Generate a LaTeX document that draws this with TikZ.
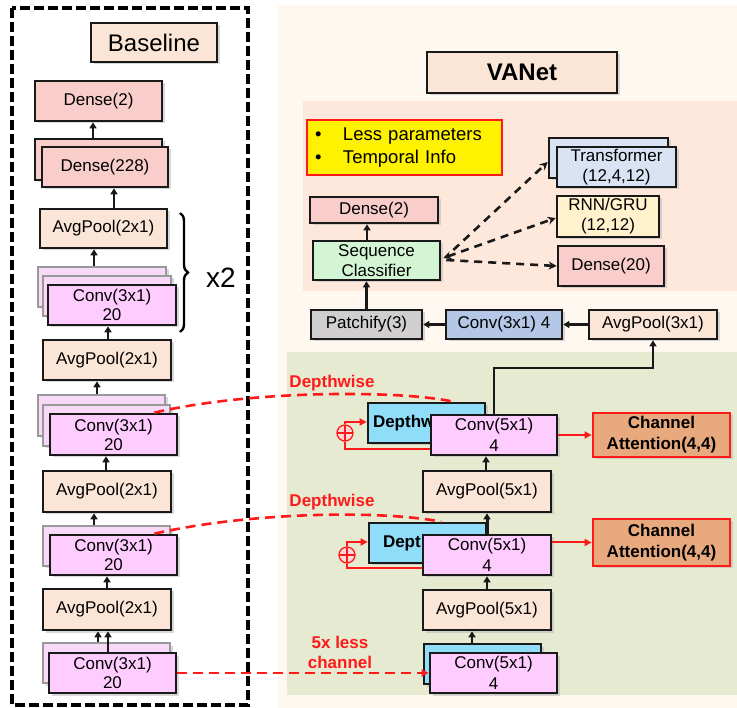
\documentclass[tikz,border=0pt]{standalone}
\usepackage{fontspec}
\setmainfont{Liberation Sans}
\usetikzlibrary{arrows.meta,shadows,decorations.pathreplacing}
\definecolor{cPeach}{HTML}{FBE5D6}
\definecolor{cDense}{HTML}{F8CDCA}
\definecolor{cConv}{HTML}{FFCCFF}
\definecolor{cConvBack}{HTML}{F8DAF8}
\definecolor{cCyan}{HTML}{8FDDF9}
\definecolor{cCA}{HTML}{E8A97E}
\definecolor{cSC}{HTML}{D3F5D3}
\definecolor{cGray}{HTML}{D0CECE}
\definecolor{cBlue}{HTML}{B4C7E7}
\definecolor{cTrans}{HTML}{DAE3F3}
\definecolor{cRNN}{HTML}{FFF2CC}
\definecolor{cBgCream}{HTML}{FEF8F1}
\definecolor{cBgSalmon}{HTML}{FDE8DB}
\definecolor{cBgGreen}{HTML}{E5EAD0}
\definecolor{cRed}{HTML}{FF1A1A}
\newcommand{\myfs}{\fontsize{17}{20}\selectfont}
\begin{document}
\begin{tikzpicture}[x=1pt,y=-1pt,
  blk/.style={rectangle, draw=black!90, line width=2.6pt, inner sep=0pt, align=center, font=\myfs,
    drop shadow={shadow xshift=2.5pt, shadow yshift=-2.5pt, fill=black!30}},
  sz/.style 2 args={minimum width=#1pt, minimum height=#2pt},
  peach/.style={blk, fill=cPeach},
  dense/.style={blk, fill=cDense},
  conv/.style={blk, fill=cConv},
  convback/.style={blk, fill=cConvBack, draw=black!40, line width=2pt},
  cyanb/.style={blk, fill=cCyan, font=\myfs\bfseries},
  cab/.style={blk, fill=cCA, draw=cRed, line width=2.8pt, font=\fontsize{17}{21}\selectfont\bfseries},
  seqc/.style={blk, fill=cSC},
  grayb/.style={blk, fill=cGray},
  blueb/.style={blk, fill=cBlue},
  trans/.style={blk, fill=cTrans},
  rnnb/.style={blk, fill=cRNN},
  arr/.style={draw=black!90, line width=2.4pt, -{Triangle[length=6pt,width=7pt]}},
  darr/.style={draw=black!90, line width=2.6pt, dash pattern=on 8pt off 6pt, -{Stealth[length=8pt,width=8pt]}},
  rline/.style={draw=cRed, line width=2pt},
  rarr/.style={draw=cRed, line width=2pt, -{Triangle[length=7pt,width=7pt]}},
  rdash/.style={draw=cRed, line width=2.6pt, dash pattern=on 10pt off 6pt},
  rtext/.style={text=cRed, font=\fontsize{17}{20}\selectfont\bfseries, align=center, inner sep=0pt},
  oplus/.style={circle, draw=cRed, line width=1.3pt, fill=white!85!red, minimum size=16pt, inner sep=0pt,
    path picture={\draw[cRed, line width=1.3pt] (path picture bounding box.north) -- (path picture bounding box.south)
      (path picture bounding box.west) -- (path picture bounding box.east);}}
]
\useasboundingbox (0,0) rectangle (737,708);
\fill[white] (0,0) rectangle (737,708);
% backgrounds
\fill[cBgCream] (278,5) rectangle (737,708);
\fill[cBgSalmon] (303,101) rectangle (737,291);
\fill[cBgGreen] (287,352) rectangle (737,695);
% left dashed frame
\draw[line width=3.2pt, dash pattern=on 10pt off 4pt] (12,8) rectangle (248,705);

% ---------- Baseline column ----------
\node[peach, sz={126}{39}, font=\fontsize{24}{28}\selectfont] (base) at (154,42.5) {Baseline};
\node[dense, sz={127}{40}] (ld2) at (98.5,101) {Dense(2)};
\node[dense, sz={127}{41}] (ld228b) at (98.5,159.5) {};
\node[dense, sz={126}{40}] (ld228) at (105,167) {Dense(228)};
\node[peach, sz={127}{39}] (lap1) at (103.5,228.5) {AvgPool(2x1)};
\node[convback, sz={128}{40}] (lc1a) at (102,287) {};
\node[convback, sz={128}{40}] (lc1b) at (107,296) {};
\node[conv, sz={128}{40}, font=\fontsize{17}{19}\selectfont] (lc1) at (112,305) {Conv(3x1)\\20};
\node[peach, sz={128}{40}] (lap2) at (107,360) {AvgPool(2x1)};
\node[convback, sz={127}{41}] (lc2a) at (101.5,415.5) {};
\node[convback, sz={127}{41}] (lc2b) at (106.5,425.5) {};
\node[conv, sz={127}{41}, font=\fontsize{17}{19}\selectfont] (lc2) at (113.5,434.5) {Conv(3x1)\\20};
\node[peach, sz={128}{41}] (lap3) at (107,491.5) {AvgPool(2x1)};
\node[convback, sz={127}{40}] (lc3a) at (106.5,546) {};
\node[conv, sz={127}{40}, font=\fontsize{17}{19}\selectfont] (lc3) at (113.5,555) {Conv(3x1)\\20};
\node[peach, sz={128}{41}] (lap4) at (107,609.5) {AvgPool(2x1)};
\node[convback, sz={127}{40}] (lc4a) at (106.5,663) {};
\node[conv, sz={127}{40}, font=\fontsize{17}{19}\selectfont] (lc4) at (112.5,673) {Conv(3x1)\\20};

\draw[arr] ([xshift=-5.5pt]ld228b.north) -- ([xshift=-5.5pt]ld2.south);
\draw[arr] ([xshift=10.5pt]lap1.north) -- ([xshift=9pt]ld228.south);
\draw[arr] ([xshift=-8pt]lc1a.north) -- ([xshift=-9.5pt]lap1.south);
\draw[arr] ([xshift=1pt]lap2.north) -- ([xshift=-4pt]lc1.south);
\draw[arr] ([xshift=-4.5pt]lc2a.north) -- ([xshift=-10pt]lap2.south);
\draw[arr] ([xshift=-1pt]lap3.north) -- ([xshift=-7.5pt]lc2.south);
\draw[arr] ([xshift=-12.5pt]lc3a.north) -- ([xshift=-13pt]lap3.south);
\draw[arr] (lap4.north) -- ([xshift=-6.5pt]lc3.south);
\draw[arr, line width=1.8pt] ([xshift=-8.5pt]lc4a.north) -- ([xshift=-9pt]lap4.south);
\draw[arr] ([xshift=-4.5pt]lc4.north) -- ([xshift=1pt]lap4.south);

\draw[line width=2.4pt, decorate, decoration={brace, amplitude=8pt}] (180,213) -- (180,332);
\node[font=\fontsize{28}{32}\selectfont, inner sep=0pt] (x2) at (221,278) {x2};

% ---------- VANet ----------
\node[peach, sz={190}{41}, font=\fontsize{24}{28}\selectfont\bfseries] (vanet) at (522,72.5) {VANet};
\node[fill=yellow, draw=cRed, line width=2.6pt, minimum width=195pt, minimum height=55pt, inner sep=0pt,
  text width=185pt, align=left, font=\fontsize{18.5}{23}\selectfont] (note) at (404.5,147.5)
  {\makebox[31pt][l]{\hspace{3pt}\textbullet}Less parameters\\\makebox[31pt][l]{\hspace{3pt}\textbullet}Temporal Info};
\node[trans, sz={119}{40}] (trb) at (608.5,158) {};
\node[trans, sz={119}{40}] (tr) at (616.5,167) {Transformer\\(12,4,12)};
\node[rnnb, sz={102}{41}] (rnn) at (608,216.5) {RNN/GRU\\(12,12)};
\node[dense, sz={106}{40}] (d20) at (611,266) {Dense(20)};
\node[dense, sz={128}{26}] (rd2) at (374,210) {Dense(2)};
\node[seqc, sz={127}{39}] (sc) at (376.5,260.5) {Sequence\\Classifier};
\node[grayb, sz={111}{29}] (patch) at (366.5,324.5) {Patchify(3)};
\node[blueb, sz={116}{29}] (c34) at (504,324.5) {Conv(3x1) 4};
\node[peach, sz={128}{29}] (ap3) at (653,324.5) {AvgPool(3x1)};

\draw[darr] ([xshift=12pt,yshift=10.5pt]sc.east) -- ([yshift=-4pt]trb.west);
\draw[darr, {Stealth[length=8pt,width=8pt]}-{Stealth[length=8pt,width=8pt]}] ([xshift=2pt,yshift=2.5pt]sc.east) -- ([yshift=-1.5pt]rnn.west);
\draw[darr] ([xshift=5pt,yshift=0.5pt]sc.east) -- (d20.west);
\draw[arr] ([xshift=-9.5pt]sc.north) -- ([xshift=-7pt]rd2.south);
\draw[arr] (patch.north) -- ([xshift=-10pt]sc.south);
\draw[arr] (ap3.west) -- (c34.east);
\draw[arr] (c34.west) -- (patch.east);

% green block
\node[cyanb, sz={117}{40}, text width=107pt, align=left] (dw1) at (426.5,423) {Depthw};
\node[conv, sz={126}{40}, font=\fontsize{17}{21}\selectfont] (c51) at (494,435) {Conv(5x1)\\4};
\node[cab, sz={137}{44}] (ca1) at (661.5,435) {Channel\\Attention(4,4)};
\node[peach, sz={128}{41}] (ap51) at (487,491.5) {AvgPool(5x1)};
\node[cyanb, sz={117}{40}, text width=89pt, align=left] (dw2) at (427.5,543) {Dept};
\node[conv, sz={128}{40}, font=\fontsize{17}{21}\selectfont] (c52) at (487,555) {Conv(5x1)\\4};
\node[cab, sz={137}{47}] (ca2) at (661.5,542.5) {Channel\\Attention(4,4)};
\node[peach, sz={128}{40}] (ap52) at (487,610) {AvgPool(5x1)};
\node[cyanb, sz={117}{40}] (c53b) at (482.5,664) {};
\node[conv, sz={127}{40}, font=\fontsize{17}{21}\selectfont] (c53) at (493.5,673) {Conv(5x1)\\4};

\coordinate (turn) at (494,368);
\draw[arr] (c51.north) -- (turn) -| (ap3.south);
\draw[arr] ([xshift=-1pt]ap51.north) -- ([xshift=-8pt]c51.south);
\draw[arr, line width=3pt] (c52.north) -- (ap51.south);
\draw[arr] (ap52.north) -- (c52.south);
\draw[arr] ([xshift=-10.5pt]c53b.north) -- ([xshift=-15pt]ap52.south);

% red connections
\draw[rarr] (c51.east) -- (ca1.west);
\draw[rarr] (c52.east |- ca2.west) -- (ca2.west);
\node[oplus] (op1) at (345,433) {};
\node[oplus] (op2) at (347,555) {};
\draw[rline] ([yshift=7pt]c51.south west) -| (op1.south);
\draw[rarr] (op1.north) |- ([yshift=1pt]dw1.west);
\draw[rline] ([yshift=8pt]c52.south west) -| (op2.south);
\draw[rarr] (op2.north) |- ([yshift=1pt]dw2.west);

\draw[rdash] ([xshift=-24pt]lc2.north east) .. controls (250,390) and (400,390) .. ([xshift=-33pt]dw1.north east);
\draw[rdash] ([xshift=-24pt]lc3.north east) .. controls (250,512) and (380,510) .. ([xshift=-46pt]dw2.north east);
\draw[rdash, -{Triangle[length=7pt,width=7pt]}] (lc4.east) -- (c53.west);

\node[rtext] (dwl1) at (332,383) {Depthwise};
\node[rtext] (dwl2) at (332,502) {Depthwise};
\node[rtext] (less) at (340,652) {5x less\\channel};
\end{tikzpicture}
\end{document}
